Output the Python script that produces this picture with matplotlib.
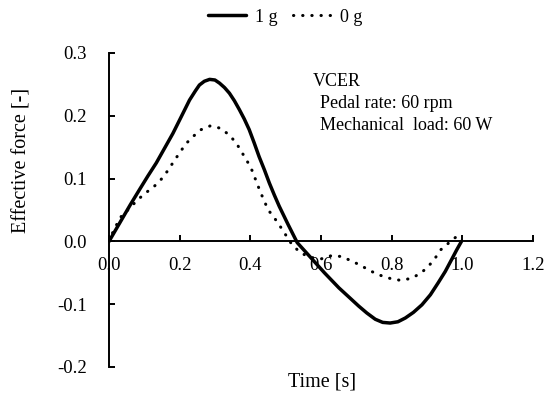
import matplotlib
matplotlib.use("Agg")
import matplotlib.pyplot as plt

plt.rcParams['font.family'] = ['Liberation Serif', 'DejaVu Serif']

# Effective force over one crank cycle
time_1g = [0.000, 0.030, 0.060, 0.087, 0.110, 0.134, 0.158, 0.181, 0.205,
           0.228, 0.245, 0.256, 0.270, 0.285, 0.300, 0.313, 0.327, 0.341,
           0.355, 0.369, 0.383, 0.397, 0.411, 0.425, 0.440, 0.454, 0.468,
           0.482, 0.507, 0.533, 0.570, 0.610, 0.651, 0.680, 0.707, 0.730,
           0.754, 0.775, 0.796, 0.818, 0.839, 0.862, 0.886, 0.910, 0.932,
           0.952, 0.970, 0.984, 0.998]
force_1g = [0.000, 0.029, 0.058, 0.083, 0.104, 0.125, 0.149, 0.172, 0.199,
            0.225, 0.240, 0.249, 0.255, 0.258, 0.257, 0.252, 0.245, 0.236,
            0.224, 0.210, 0.195, 0.178, 0.157, 0.135, 0.114, 0.093, 0.074,
            0.056, 0.027, -0.002, -0.025, -0.050, -0.074, -0.089, -0.103,
            -0.114, -0.124, -0.129, -0.130, -0.128, -0.122, -0.113, -0.101,
            -0.085, -0.066, -0.048, -0.029, -0.014, 0.000]

time_0g = [0.000, 0.015, 0.035, 0.057, 0.079, 0.101, 0.127, 0.148, 0.167,
           0.183, 0.200, 0.217, 0.238, 0.261, 0.287, 0.317, 0.341, 0.360,
           0.376, 0.392, 0.405, 0.416, 0.427, 0.439, 0.451, 0.470, 0.487,
           0.503, 0.518, 0.540, 0.566, 0.600, 0.628, 0.658, 0.686, 0.712,
           0.740, 0.768, 0.796, 0.825, 0.855, 0.882, 0.904, 0.923, 0.940,
           0.963, 0.989]
force_0g = [0.000, 0.020, 0.040, 0.052, 0.065, 0.076, 0.087, 0.099, 0.113,
            0.127, 0.141, 0.155, 0.167, 0.178, 0.184, 0.180, 0.169, 0.157,
            0.142, 0.127, 0.113, 0.097, 0.081, 0.065, 0.050, 0.036, 0.022,
            0.008, -0.005, -0.017, -0.025, -0.028, -0.023, -0.024, -0.031,
            -0.038, -0.047, -0.054, -0.059, -0.062, -0.059, -0.051, -0.040,
            -0.027, -0.013, -0.002, 0.010]

x_ticks = [0.0, 0.2, 0.4, 0.6, 0.8, 1.0, 1.2]
y_ticks = [-0.2, -0.1, 0.0, 0.1, 0.2, 0.3]

fig = plt.figure(figsize=(5.51, 3.97), dpi=100)
ax = fig.add_axes([0.1978, 0.0756, 0.7692, 0.7909])

ax.plot(time_1g, force_1g, color='black', lw=2.5, solid_capstyle='round',
        solid_joinstyle='round', label='1 g')
ax.plot(time_0g, force_0g, color='black', lw=2.2, linestyle=(0, (0.1, 2.9)),
        dash_capstyle='round', label='0 g')

ax.set_xlim(0, 1.2)
ax.set_ylim(-0.2, 0.3)
ax.set_xticks(x_ticks)
ax.set_xticklabels([f"{v:.1f}" for v in x_ticks])
ax.set_yticks(y_ticks)
ax.set_yticklabels([f"{v:.1f}" for v in y_ticks])

ax.spines['top'].set_visible(False)
ax.spines['right'].set_visible(False)
ax.spines['bottom'].set_position(('data', 0))
for s in ('left', 'bottom'):
    ax.spines[s].set_linewidth(1.4)
ax.tick_params(axis='both', direction='in', length=4, width=1.4,
               labelsize=13.5, colors='black')
ax.tick_params(axis='y', pad=16)
ax.tick_params(axis='x', pad=11)

fig.text(0.5838, 1 - 382 / 397, 'Time [s]', fontsize=14.5,
         ha='center', va='center')
fig.text(0.04, 1 - 160 / 397, 'Effective force [-]', rotation=90,
         fontsize=14.5, ha='center', va='center')

ax.text(0.577, 0.255, 'VCER', fontsize=13, ha='left', va='center')
ax.text(0.597, 0.220, 'Pedal rate: 60 rpm', fontsize=13, ha='left', va='center')
ax.text(0.597, 0.185, 'Mechanical  load: 60 W', fontsize=13, ha='left', va='center')

fig.legend(loc='center', bbox_to_anchor=(0.518, 0.957), ncol=2, frameon=False,
           fontsize=13, handlelength=2.1, handletextpad=0.5, columnspacing=0.85)

fig.savefig('out.png', dpi=100)
